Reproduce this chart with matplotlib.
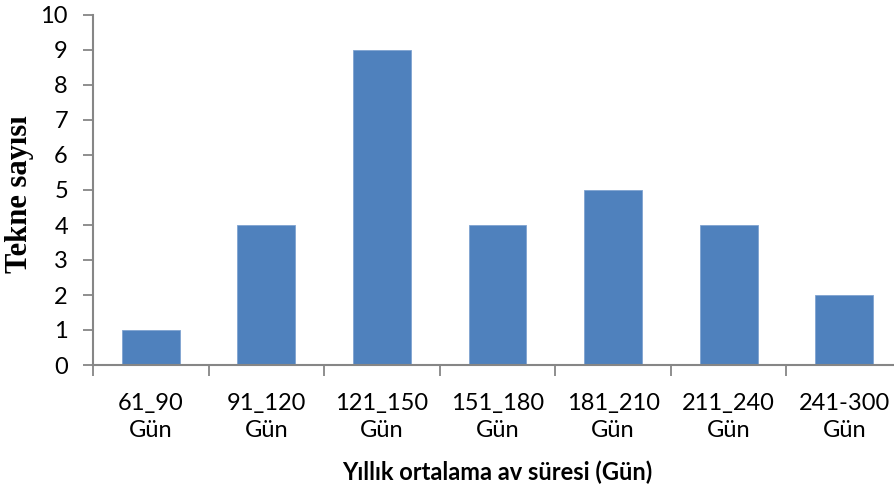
import matplotlib.pyplot as plt
import numpy as np

# bar chart: number of boats per yearly fishing-day class
categories = ["61_90\nGün", "91_120\nGün", "121_150\nGün", "151_180\nGün",
              "181_210\nGün", "211_240\nGün", "241-300\nGün"]
boat_counts = [1, 4, 9, 4, 5, 4, 2]
y_ticks = list(range(0, 11))

axis_gray = "#868686"
bar_blue = "#4F81BD"

fig = plt.figure(figsize=(8.95, 4.9), dpi=100)
# axes extends a little past the right edge of the figure
ax = fig.add_axes([93 / 895, (490 - 365) / 490, (902 - 93) / 895, 350 / 490])

x = np.arange(len(categories))
ax.bar(x, boat_counts, width=0.5, color=bar_blue, edgecolor="#7FA3D1", linewidth=0.6, zorder=2)

ax.set_xlim(-0.5, len(categories) - 0.5)
ax.set_ylim(0, 10)
ax.set_yticks(y_ticks)
ax.set_yticklabels([str(t) for t in y_ticks], family="Lato", fontsize=17)

# category labels sit between boundary ticks
ax.set_xticks(x)
ax.set_xticklabels(categories, family="Lato", fontsize=17, linespacing=1.35)
ax.tick_params(axis="x", length=0, pad=20)
ax.set_xticks(np.arange(-0.5, len(categories), 1.0), minor=True)
ax.tick_params(axis="x", which="minor", length=8, width=1.3, color=axis_gray, direction="out")
ax.tick_params(axis="y", length=7, width=1.3, color=axis_gray, direction="out", pad=11)

for side in ["top", "right"]:
    ax.spines[side].set_visible(False)
for side in ["left", "bottom"]:
    ax.spines[side].set_color(axis_gray)
    ax.spines[side].set_linewidth(1.5)

fig.text(20 / 895, 1 - 194 / 490, "Tekne sayısı", family="Liberation Serif", fontweight="bold",
         fontsize=22, rotation=90, ha="center", va="center")
fig.text(497 / 895, 1 - 472 / 490, "Yıllık ortalama av süresi (Gün)", family="Lato",
         fontweight="bold", fontsize=17, ha="center", va="center")

fig.savefig("out.png", dpi=100)
